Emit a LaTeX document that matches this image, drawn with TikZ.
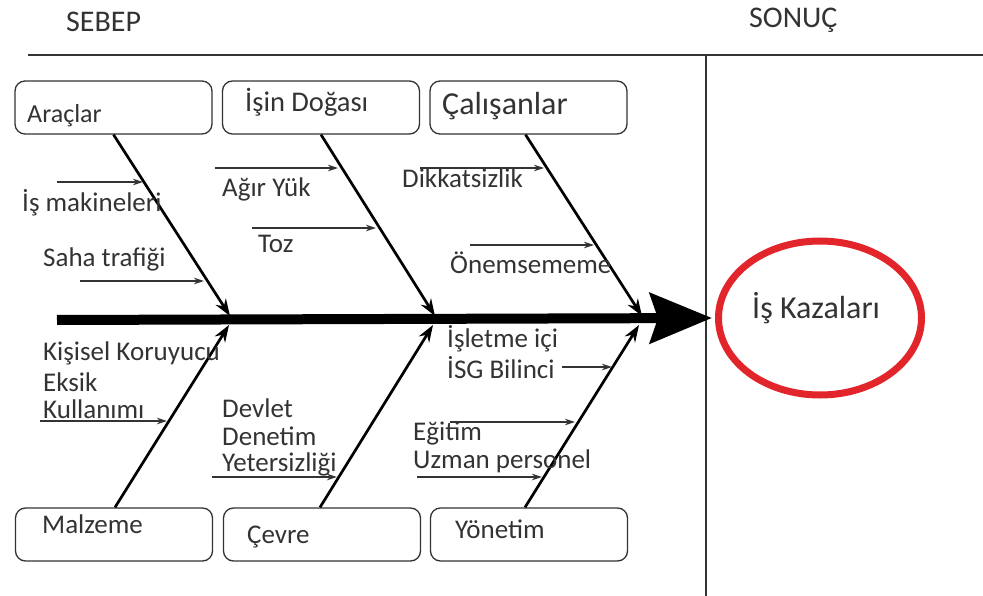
\documentclass[tikz,border=0pt]{standalone}
\usepackage{fontspec}
\setmainfont{Carlito}
\usetikzlibrary{arrows.meta,shapes.geometric}
\definecolor{ink}{HTML}{333333}
\definecolor{redring}{HTML}{E2242B}
\begin{document}
\begin{tikzpicture}[x=1pt,y=-1pt,
  lbl/.style={anchor=base west, inner sep=0pt, text=ink, font=\fontsize{27}{30}\selectfont},
  box/.style={draw=ink, rounded corners=10pt, line width=1.3pt, minimum width=197pt, minimum height=53pt, inner sep=0pt},
  bone/.style={line width=2.7pt, -{Stealth[length=17pt 0, width=12pt 0]}},
  sub/.style={line width=1.3pt, draw=ink, -{Stealth[length=10pt 0, width=6.5pt 0]}},
  frame/.style={line width=1.5pt, draw=ink},
]
\useasboundingbox (0,0) rectangle (983,596);

% header
\node[lbl, font=\fontsize{30}{32}\selectfont] (sebep) at (66,32) {SEBEP};
\node[lbl, font=\fontsize{30}{32}\selectfont] (sonuc) at (749,28) {SONUÇ};
\coordinate (hl) at (28,55);
\coordinate (hr) at (983,55);
\coordinate (vt) at (706,55);
\coordinate (vb) at (706,596);
\draw[frame] (hl) -- (hr);
\draw[frame] (vt) -- (vb);

% boxes
\node[box] (aracl) at (113.5,107.5) {};
\node[box] (isin)  at (321,107.5) {};
\node[box] (calis) at (528.5,107.5) {};
\node[box] (malz)  at (114,534.5) {};
\node[box] (cevre) at (322,534.5) {};
\node[box] (yonet) at (529,534.5) {};

\node[lbl, font=\fontsize{26}{28}\selectfont] (taracl) at (27,123) {Araçlar};
\node[lbl, font=\fontsize{28.5}{30}\selectfont] (tisin) at (245,112) {İşin Doğası};
\node[lbl, font=\fontsize{32}{34}\selectfont] (tcalis) at (442,115) {Çalışanlar};
\node[lbl] (tmalz) at (42,533) {Malzeme};
\node[lbl] (tcevre) at (247,543) {Çevre};
\node[lbl] (tyonet) at (455,538) {Yönetim};

% effect
\node[draw=redring, line width=7pt, ellipse, minimum width=203pt, minimum height=154pt, inner sep=0pt] (kaza) at (820,318) {};
\node[lbl, font=\fontsize{32}{34}\selectfont] (tkaza) at (752,318) {İş Kazaları};

% spine
\coordinate (tail) at (57,320);
\draw[line width=10pt, -{Stealth[length=62pt 0, width=50pt 0, inset=8pt 0]}] (tail) -- ([xshift=-3pt]kaza.west);

% bones
\coordinate (s1) at (230,316);
\coordinate (s2) at (435,316);
\coordinate (s3) at (642,316);
\coordinate (b1) at (229,325);
\coordinate (b2) at (433,325);
\coordinate (b3) at (639,325);
\draw[bone] (aracl.south) -- (s1);
\draw[bone] (isin.south) -- (s2);
\draw[bone] ([xshift=-3pt]calis.south) -- (s3);
\draw[bone] ([xshift=1pt]malz.north) -- (b1);
\draw[bone] ([xshift=-2pt]cevre.north) -- (b2);
\draw[bone] ([xshift=-4pt]yonet.north) -- (b3);

% sub causes, top
\node[lbl] (l1) at (22,212) {İş makineleri};
\coordinate (a1s) at (57,182); \coordinate (a1e) at (143,182);
\draw[sub] (a1s) -- (a1e);
\node[lbl] (l2) at (43,267) {Saha trafiği};
\coordinate (a2s) at (80,281); \coordinate (a2e) at (204,281);
\draw[sub] (a2s) -- (a2e);
\node[lbl] (l3) at (222,197) {Ağır Yük};
\coordinate (a3s) at (215,168); \coordinate (a3e) at (338,168);
\draw[sub] (a3s) -- (a3e);
\node[lbl] (l4) at (258,253) {Toz};
\coordinate (a4s) at (252,228); \coordinate (a4e) at (376,228);
\draw[sub] (a4s) -- (a4e);
\node[lbl] (l5) at (402,188) {Dikkatsizlik};
\coordinate (a5s) at (420,168); \coordinate (a5e) at (544,168);
\draw[sub] (a5s) -- (a5e);
\node[lbl] (l6) at (450,273) {Önemsememe};
\coordinate (a6s) at (470,245); \coordinate (a6e) at (594,245);
\draw[sub] (a6s) -- (a6e);

% sub causes, bottom
\node[lbl] (l7a) at (43,360) {Kişisel Koruyucu};
\node[lbl] (l7b) at (43,391) {Eksik};
\node[lbl] (l7c) at (43,418) {Kullanımı};
\coordinate (a7s) at (40,421); \coordinate (a7e) at (167,421);
\draw[sub] (a7s) -- (a7e);
\node[lbl] (l8a) at (222,417) {Devlet};
\node[lbl] (l8b) at (222,445) {Denetim};
\node[lbl] (l8c) at (222,471) {Yetersizliği};
\coordinate (a8s) at (212,477); \coordinate (a8e) at (337,477);
\draw[sub] (a8s) -- (a8e);
\node[lbl] (l9a) at (447,347) {İşletme içi};
\node[lbl] (l9b) at (447,378) {İSG Bilinci};
\coordinate (a9s) at (562,367); \coordinate (a9e) at (612,367);
\draw[sub] (a9s) -- (a9e);
\node[lbl] (l10) at (413,440) {Eğitim};
\coordinate (a10s) at (450,422); \coordinate (a10e) at (575,422);
\draw[sub] (a10s) -- (a10e);
\node[lbl] (l11) at (413,468) {Uzman personel};
\coordinate (a11s) at (417,477); \coordinate (a11e) at (542,477);
\draw[sub] (a11s) -- (a11e);
\end{tikzpicture}
\end{document}
